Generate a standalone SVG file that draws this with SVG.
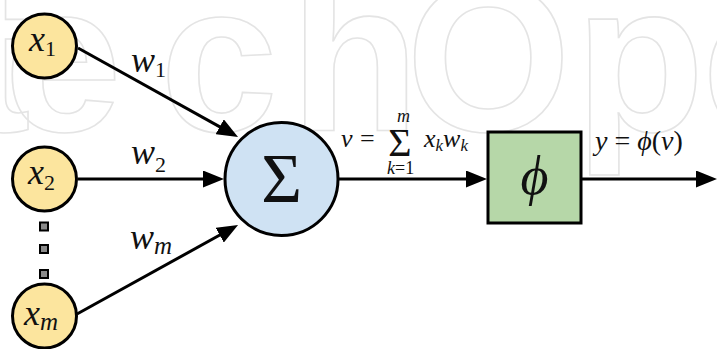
<svg xmlns="http://www.w3.org/2000/svg" width="717" height="349" viewBox="0 0 717 349">
  <defs>
    <style>
      .wm { font-family: 'Liberation Sans', Arial, sans-serif; font-weight: bold; font-size: 212px; fill: none; stroke: #e4e4e4; stroke-width: 1.6; }
      .inp { fill: #fce59e; stroke: #000; stroke-width: 3; }
      .dot { fill: #8a8a8a; stroke: #000; stroke-width: 2; }
      .sum { fill: #cfe2f3; stroke: #000; stroke-width: 3; }
      .act { fill: #b6d7a8; stroke: #000; stroke-width: 3; }
      .edge { stroke: #000; stroke-width: 3; fill: none; marker-end: url(#arr); }
      .m { font-family: 'Liberation Serif', 'DejaVu Serif', serif; font-style: italic; fill: #111; }
      .r { font-family: 'Liberation Serif', 'DejaVu Serif', serif; font-style: normal; fill: #111; }
    </style>
    <marker id="arr" markerUnits="userSpaceOnUse" markerWidth="21" markerHeight="17" viewBox="0 0 21 17" refX="11" refY="8.5" orient="auto">
      <path d="M0,0 L21,8.5 L0,17 Z" fill="#000"/>
    </marker>
  </defs>

  <rect width="717" height="349" fill="#fff"/>

  <g id="watermark">
    <text class="wm" x="-40 4 160 290 406 575 702" y="131">techOpe</text>
  </g>

  <g id="connectors">
    <line class="edge" x1="78" y1="48" x2="229.3" y2="132.1"/>
    <line class="edge" x1="78" y1="179" x2="214" y2="179"/>
    <line class="edge" x1="77" y1="314" x2="229.3" y2="229.8"/>
    <line class="edge" x1="338" y1="179" x2="477" y2="179"/>
    <line class="edge" x1="581" y1="179" x2="707" y2="179"/>
  </g>

  <g id="x1">
    <circle class="inp" cx="44.5" cy="46" r="32"/>
    <text class="m" x="29" y="51" font-size="36">x<tspan font-style="normal" font-size="22" dy="5">1</tspan></text>
  </g>
  <g id="x2">
    <circle class="inp" cx="44.5" cy="179" r="32"/>
    <text class="m" x="28" y="184" font-size="36">x<tspan font-style="normal" font-size="22" dy="6">2</tspan></text>
  </g>
  <g id="dots">
    <rect class="dot" x="40" y="222.5" width="8" height="8"/>
    <rect class="dot" x="40" y="245" width="8" height="8"/>
    <rect class="dot" x="40" y="270" width="8" height="8"/>
  </g>
  <g id="xm">
    <circle class="inp" cx="44.5" cy="316" r="32"/>
    <text class="m" x="24" y="325" font-size="36">x<tspan font-size="25" dy="5">m</tspan></text>
  </g>

  <g id="weights">
    <text class="m" x="131" y="72" font-size="36">w<tspan font-style="normal" font-size="22" dy="5">1</tspan></text>
    <text class="m" x="131" y="164" font-size="36">w<tspan font-style="normal" font-size="22" dy="8">2</tspan></text>
    <text class="m" x="130" y="249" font-size="36">w<tspan font-size="25" dy="5">m</tspan></text>
  </g>

  <g id="sum">
    <circle class="sum" cx="281.5" cy="179" r="56.5"/>
    <text class="r" x="281.5" y="202" font-size="70" text-anchor="middle">Σ</text>
  </g>

  <g id="formula">
    <text class="m" x="341" y="147" font-size="26">v</text>
    <text class="r" x="360" y="147" font-size="26">=</text>
    <text class="r" x="400" y="156" font-size="40" text-anchor="middle">Σ</text>
    <text class="m" x="403.5" y="122" font-size="18" text-anchor="middle">m</text>
    <text class="m" x="387" y="174" font-size="18">k<tspan font-style="normal">=1</tspan></text>
    <text class="m" x="424" y="147" font-size="26">x<tspan font-size="17" dy="4">k</tspan><tspan dy="-4">w</tspan><tspan font-size="17" dy="4">k</tspan></text>
  </g>

  <g id="phi">
    <rect class="act" x="488" y="132" width="93" height="91"/>
    <text class="m" x="534.5" y="194" font-size="54" text-anchor="middle">ϕ</text>
  </g>

  <g id="output">
    <text class="m" x="595" y="150" font-size="28">y <tspan font-style="normal">=</tspan> ϕ<tspan font-style="normal">(</tspan>v<tspan font-style="normal">)</tspan></text>
  </g>
</svg>
